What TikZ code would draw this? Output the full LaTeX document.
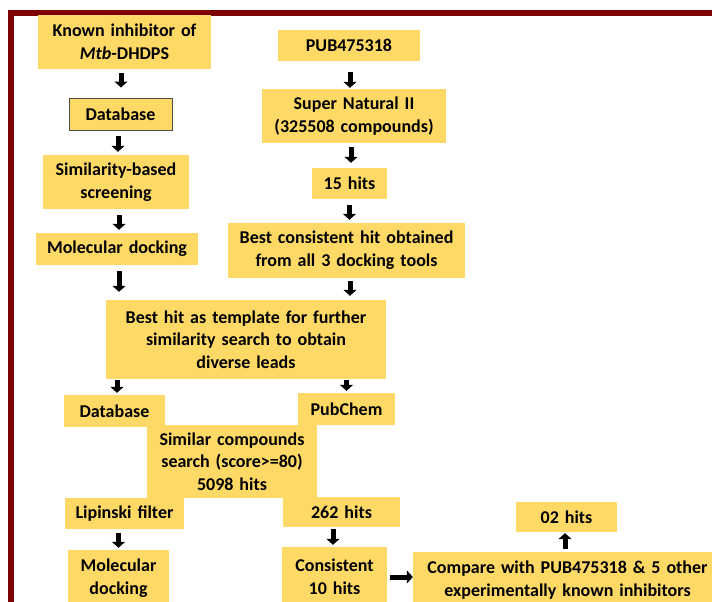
\documentclass[tikz,border=0pt]{standalone}
\usepackage{fontspec}
\setmainfont{Carlito}
\usetikzlibrary{arrows.meta}
\definecolor{boxfill}{HTML}{FFD966}
\definecolor{framered}{HTML}{7F0000}

\tikzset{
    stage/.style={
        fill=boxfill,
        inner sep=0pt,
        align=center,
        font={\bfseries\fontsize{18}{22.7}\selectfont\spaceskip=0.33em plus 0.05em}},
    flow/.style={
        line width=5pt,
        -{Triangle[length=6pt,width=13pt]},
        shorten <=3pt,
        shorten >=3pt},
}

\begin{document}
\begin{tikzpicture}[x=1pt,y=-1pt]
    \useasboundingbox (0,0) rectangle (712,602);
    \draw[framered, line width=6pt] (10.5,602) |- (712,13.5);

    % left column
    \node[stage, minimum width=173pt, minimum height=54pt]
        (known) at (124.5,42) {Known inhibitor of\\\textit{Mtb}-DHDPS};
    \node[stage, draw=black!70, line width=1pt, minimum width=103pt, minimum height=32pt]
        (db1) at (120.5,114) {Database};
    \node[stage, minimum width=146pt, minimum height=54pt]
        (sim) at (116,182) {Similarity-based\\screening};
    \node[stage, minimum width=162pt, minimum height=32pt]
        (mol) at (117,249) {Molecular docking};

    % right column
    \node[stage, minimum width=142pt, minimum height=31pt]
        (pub) at (349,45.5) {PUB475318};
    \node[stage, minimum width=184pt, minimum height=54pt]
        (sn) at (354,116) {Super Natural II\\(325508 compounds)};
    \node[stage, minimum width=75pt, minimum height=31pt]
        (h15) at (349.5,183.5) {15 hits};
    \node[stage, minimum width=237pt, minimum height=55pt]
        (best) at (346.5,250.5) {Best consistent hit obtained\\from all 3 docking tools};

    % merged part
    \node[stage, minimum width=280pt, minimum height=79pt]
        (tmpl) at (246,339.5) {Best hit as template for further\\similarity search to obtain\\diverse leads};
    \node[stage, minimum width=101pt, minimum height=32pt]
        (db2) at (114.5,411) {Database};
    \node[stage, minimum width=97pt, minimum height=32pt]
        (pubchem) at (346.5,409) {PubChem};
    \node[stage, minimum width=170pt, minimum height=73pt]
        (simc) at (232,461.5) {Similar compounds\\search (score>=80)\\5098 hits};
    \node[stage, minimum width=119pt, minimum height=31pt]
        (lip) at (124.5,513.5) {Lipinski filter};
    \node[stage, minimum width=117pt, minimum height=30pt]
        (h262) at (341.5,512) {262 hits};
    \node[stage, minimum width=101pt, minimum height=56pt]
        (mol2) at (118.5,578) {Molecular\\docking};
    \node[stage, minimum width=105pt, minimum height=60pt]
        (cons) at (334.5,577) {Consistent\\10 hits};
    \node[stage, minimum width=309pt, minimum height=56pt]
        (cmp) at (567.5,580) {Compare with PUB475318 \& 5 other\\experimentally known inhibitors};
    \node[stage, minimum width=101pt, minimum height=30pt]
        (h02) at (566.5,517) {02 hits};

    % arrows
    \draw[flow, shorten <=4pt, shorten >=10pt] ([xshift=-3.5pt]known.south) -- ([xshift=-3.5pt]known.south |- db1.north);
    \draw[flow, shorten <=5pt] ([xshift=-2.5pt]db1.south) -- ([xshift=-2.5pt]db1.south |- sim.north);
    \draw[flow, shorten <=6pt] ([xshift=3pt]sim.south) -- ([xshift=3pt]sim.south |- mol.north);
    \draw[flow, shorten <=6pt, shorten >=8pt] ([xshift=2pt]mol.south) -- ([xshift=2pt]mol.south |- tmpl.north);
    \draw[flow, shorten <=11pt, shorten >=1pt] ([xshift=1pt]pub.south) -- ([xshift=1pt]pub.south |- sn.north);
    \draw[flow, shorten <=4pt, shorten >=5pt] ([xshift=-3pt]sn.south) -- ([xshift=-3pt]sn.south |- h15.north);
    \draw[flow, shorten <=6pt] (h15.south) -- (h15.south |- best.north);
    \draw[flow, shorten >=4pt] ([xshift=3.5pt]best.south) -- ([xshift=3.5pt]best.south |- tmpl.north);
    \draw[flow, shorten <=1pt, shorten >=2pt] ([xshift=2.5pt]db2.north |- tmpl.south) -- ([xshift=2.5pt]db2.north);
    \draw[flow, shorten <=1pt, shorten >=2pt] (pubchem.north |- tmpl.south) -- (pubchem.north);
    \draw[flow, shorten <=4pt, shorten >=2pt] (lip.south -| mol2.north) -- (mol2.north);
    \draw[flow, shorten <=2pt, shorten >=2pt] ([xshift=-1.5pt]h262.south -| cons.north) -- ([xshift=-1.5pt]cons.north);
    \draw[flow, shorten >=0pt] (cons.east) -- (cons.east -| cmp.west);
    \draw[flow, shorten >=1pt] ([xshift=-2.5pt]cmp.north) -- ([xshift=-2.5pt]cmp.north |- h02.south);
\end{tikzpicture}
\end{document}
